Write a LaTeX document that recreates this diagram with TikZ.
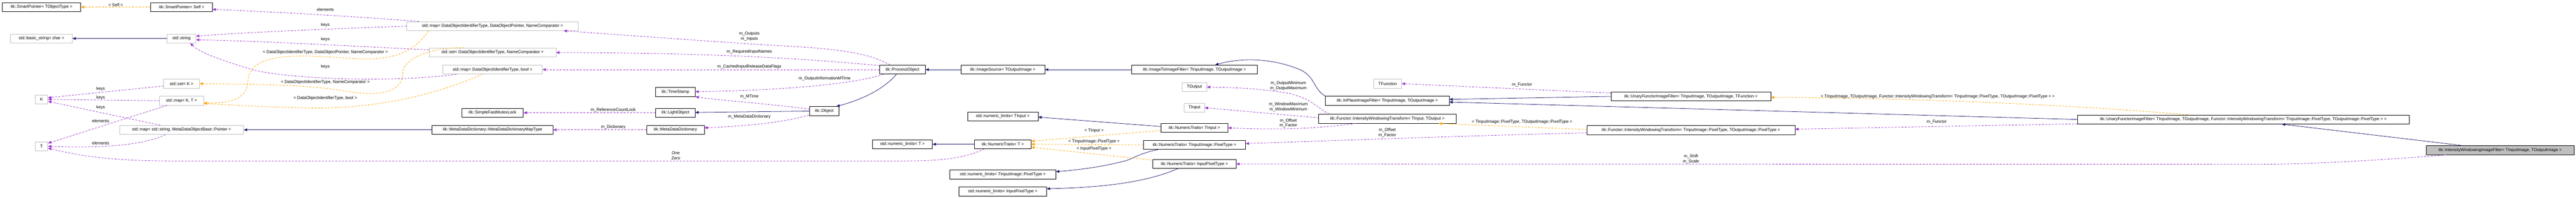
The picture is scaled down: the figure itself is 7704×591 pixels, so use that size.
\documentclass[tikz,border=0pt]{standalone}
\usepackage{fontspec}
\setmainfont{Liberation Sans}
\usetikzlibrary{arrows.meta,calc}
\definecolor{navy}{RGB}{25,25,112}
\definecolor{orch}{RGB}{154,50,205}
\definecolor{org}{RGB}{255,165,0}
\definecolor{ugray}{RGB}{191,191,191}
\begin{document}
\begin{tikzpicture}[x=1pt,y=-1pt,
  every node/.style={font=\fontsize{12.5}{15}\selectfont},
  box/.style={draw, line width=1pt, minimum height=27pt, inner sep=0pt, fill=white},
  doc/.style={box, draw=black},
  und/.style={box, draw=ugray},
  lbl/.style={inner sep=1pt, align=center, font=\fontsize{12.5}{15}\selectfont},
  inh/.style={draw=navy, line width=1.2pt, -{Triangle[length=10pt,width=8pt]}, fill=none},
  tpl/.style={draw=org, line width=1.2pt, dash pattern=on 6pt off 4pt, -{Triangle[length=10pt,width=8pt,fill=org]}},
  use/.style={draw=orch, line width=1.2pt, dash pattern=on 6pt off 4pt, -{Triangle[length=10pt,width=8pt,fill=orch]}}]
\useasboundingbox (0,0) rectangle (7704,591);
% nodes
\node[doc,minimum width=235] (spTO) at (124,21) {itk::SmartPointer< TObjectType >};
\node[doc,minimum width=184] (spSelf) at (543,21) {itk::SmartPointer< Self >};
\node[und,minimum width=184] (bstr) at (124,115) {std::basic\_string< char >};
\node[und,minimum width=86] (str) at (543,115) {std::string};
\node[und,minimum width=107] (setK) at (543,250) {std::set< K >};
\node[und,minimum width=38] (K) at (124,297) {K};
\node[und,minimum width=132] (mapKT) at (543,301) {std::map< K, T >};
\node[und,minimum width=371] (mapSM) at (543,388) {std::map< std::string, MetaDataObjectBase::Pointer >};
\node[und,minimum width=38] (T) at (124,437) {T};
\node[und,minimum width=514] (mapDOP) at (1473,78) {std::map< DataObjectIdentifierType, DataObjectPointer, NameComparator >};
\node[und,minimum width=379] (setDO) at (1473,157) {std::set< DataObjectIdentifierType, NameComparator >};
\node[und,minimum width=298] (mapBool) at (1473,208) {std::map< DataObjectIdentifierType, bool >};
\node[doc,minimum width=184] (mutex) at (1473,337) {itk::SimpleFastMutexLock};
\node[doc,minimum width=362] (mddMap) at (1473,388) {itk::MetaDataDictionary::MetaDataDictionaryMapType};
\node[doc,minimum width=118] (ts) at (2020,275) {itk::TimeStamp};
\node[doc,minimum width=118] (lo) at (2020,337) {itk::LightObject};
\node[doc,minimum width=172] (mdd) at (2020,388) {itk::MetaDataDictionary};
\node[doc,minimum width=87] (obj) at (2465,332) {itk::Object};
\node[doc,minimum width=137] (po) at (2699,208) {itk::ProcessObject};
\node[doc,minimum width=251] (isrc) at (2999,208) {itk::ImageSource< TOutputImage >};
\node[doc,minimum width=376] (i2i) at (3572,208) {itk::ImageToImageFilter< TInputImage, TOutputImage >};
\node[und,minimum width=73] (TOut) at (3572,260) {TOutput};
\node[und,minimum width=61] (TIn) at (3572,322) {TInput};
\node[doc,minimum width=211] (nlTIn) at (2999,348) {std::numeric\_limits< TInput >};
\node[doc,minimum width=201] (ntTIn) at (3572,382) {itk::NumericTraits< TInput >};
\node[doc,minimum width=179] (nlT) at (2699,431) {std::numeric\_limits< T >};
\node[doc,minimum width=169] (ntT) at (2999,431) {itk::NumericTraits< T >};
\node[doc,minimum width=306] (ntTIPT) at (3572,433) {itk::NumericTraits< TInputImage::PixelType >};
\node[doc,minimum width=250] (ntIPT) at (3572,490) {itk::NumericTraits< InputPixelType >};
\node[doc,minimum width=317] (nlTIPT) at (2999,521) {std::numeric\_limits< TInputImage::PixelType >};
\node[doc,minimum width=262] (nlIPT) at (2999,572) {std::numeric\_limits< InputPixelType >};
\node[und,minimum width=83] (TFun) at (4150,250) {TFunction};
\node[doc,minimum width=370] (ipf) at (4149,301) {itk::InPlaceImageFilter< TInputImage, TOutputImage >};
\node[doc,minimum width=410] (iwtIO) at (4149,355) {itk::Functor::IntensityWindowingTransform< TInput, TOutput >};
\node[doc,minimum width=477] (uf) at (5057,288) {itk::UnaryFunctorImageFilter< TInputImage, TOutputImage, TFunction >};
\node[doc,minimum width=622] (iwtPix) at (5057,389) {itk::Functor::IntensityWindowingTransform< TInputImage::PixelType, TOutputImage::PixelType >};
\node[doc,minimum width=992] (uf2) at (6709,357) {itk::UnaryFunctorImageFilter< TInputImage, TOutputImage, Functor::IntensityWindowingTransform< TInputImage::PixelType, TOutputImage::PixelType > >};
\node[doc,minimum width=442,fill=ugray] (iwif) at (7477,449) {itk::IntensityWindowingImageFilter< TInputImage, TOutputImage >};
% inheritance
\draw[inh] (str.west) -- (bstr.east);
\draw[inh] (mddMap.west) -- (mapSM.east);
\draw[inh] (obj.west) -- ($(lo.east)+(0,-1)$);
\draw[inh] ($(po.south)+(-18,0)$) .. controls (2640,270) and (2570,300) .. ($(obj.north east)+(-8,0)$);
\draw[inh] (isrc.west) -- (po.east);
\draw[inh] (i2i.west) -- (isrc.east);
\draw[inh] (ipf.north west) .. controls (3925,265) and (3935,225) .. (3880,205) .. controls (3790,170) and (3700,175) .. ($(i2i.north)+(62,0)$);
\draw[inh] (uf.west) -- ($(ipf.east)+(0,-4)$);
\draw[inh] (uf2.west) -- ($(ipf.east)+(0,4)$);
\draw[inh] ($(iwif.north)+(-112,0)$) -- ($(uf2.south)+(115,0)$);
\draw[inh] ($(ntTIn.north west)+(0,10)$) -- ($(nlTIn.east)+(0,2)$);
\draw[inh] (ntT.west) -- (nlT.east);
\draw[inh] ($(ntTIPT.south west)+(45,0)$) .. controls (3400,460) and (3390,475) .. (3360,482) .. controls (3290,500) and (3220,508) .. ($(nlTIPT.east)+(0,-8)$);
\draw[inh] ($(ntIPT.south)+(-50,0)$) .. controls (3440,540) and (3320,560) .. ($(nlIPT.east)+(0,-8)$);
% template
\draw[tpl] (spSelf.west) -- node[lbl,above] (l1) {< Self >} (spTO.east);
\draw[tpl] ($(mapDOP.south west)+(66,0)$) .. controls (1230,170) and (1150,180) .. (1060,175) .. controls (900,165) and (745,150) .. (741,245) .. controls (738,300) and (680,308) .. ($(mapKT.east)+(0,7)$);
\node[lbl] (l2) at (973,156) {< DataObjectIdentifierType, DataObjectPointer, NameComparator >};
\draw[tpl] ($(setDO.north west)+(105,0)$) .. controls (1300,140) and (1205,170) .. (1204,220) .. controls (1203,290) and (1100,285) .. (1020,270) .. controls (900,252) and (760,252) .. (setK.east);
\node[lbl] (l3) at (973,245) {< DataObjectIdentifierType, NameComparator >};
\draw[tpl] ($(mapBool.south)+(-30,0)$) .. controls (1330,270) and (1150,330) .. (900,322) .. controls (750,318) and (660,312) .. ($(mapKT.east)+(0,8)$);
\node[lbl] (l4) at (973,293) {< DataObjectIdentifierType, bool >};
\draw[tpl] ($(ntTIn.south west)+(0,-6)$) -- ($(ntT.east)+(0,-9)$);
\node[lbl] (l5) at (3272,391) {< TInput >};
\draw[tpl] (ntTIPT.west) -- (ntT.east);
\node[lbl] (l6) at (3272,423) {< TInputImage::PixelType >};
\draw[tpl] ($(ntIPT.north west)+(-3,2)$) -- ($(ntT.east)+(0,9)$);
\node[lbl] (l7) at (3272,445) {< InputPixelType >};
\draw[tpl] ($(iwtPix.west)+(0,-2)$) -- ($(iwtIO.south east)+(-52,0)$);
\node[lbl] (l8) at (4552,365) {< TInputImage::PixelType, TOutputImage::PixelType >};
\draw[tpl] ($(uf2.north west)+(330,0)$) .. controls (6100,305) and (5600,292) .. ($(uf.east)+(0,3)$);
\node[lbl] (l9) at (5795,288) {< TInputImage, TOutputImage, Functor::IntensityWindowingTransform< TInputImage::PixelType, TOutputImage::PixelType > >};
% usage
\draw[use] ($(mapDOP.north west)+(37,0)$) .. controls (1000,45) and (800,35) .. ($(spSelf.east)+(0,7)$);
\node[lbl] (m1) at (973,28) {elements};
\draw[use] (mapDOP.west) .. controls (1000,86) and (760,95) .. ($(str.east)+(0,-7)$);
\node[lbl] (m2) at (973,75) {keys};
\draw[use] ($(setDO.west)+(0,-8)$) .. controls (1000,135) and (760,122) .. ($(str.east)+(0,4)$);
\node[lbl] (m3) at (973,117) {keys};
\draw[use] ($(mapBool.south west)+(42,0)$) .. controls (1200,245) and (900,240) .. (760,210) .. controls (680,185) and (600,160) .. ($(str.south)+(26,0)$);
\node[lbl] (m4) at (973,199) {keys};
\draw[use] ($(setK.west)+(0,7)$) -- ($(K.east)+(0,-5)$);
\node[lbl] (m5) at (301,265) {keys};
\draw[use] (mapKT.west) -- (K.east);
\node[lbl] (m6) at (301,292) {keys};
\draw[use] ($(mapSM.north west)+(122,0)$) -- ($(K.east)+(0,6)$);
\node[lbl] (m7) at (301,321) {keys};
\draw[use] ($(mapKT.south west)+(23,0)$) -- ($(T.east)+(0,-9)$);
\node[lbl] (m8) at (301,361) {elements};
\draw[use] ($(mapSM.south west)+(138,0)$) .. controls (420,440) and (260,442) .. (T.east);
\node[lbl] (m9) at (301,428) {elements};
\draw[use] ($(ntT.south west)+(30,0)$) .. controls (2880,476) and (2800,481) .. (2700,481) -- (520,481) .. controls (300,481) and (220,460) .. ($(T.east)+(0,6)$);
\node[lbl] (m10) at (2021,465) {One\\Zero};
\draw[use] ($(po.north west)+(32,0)$) .. controls (2600,160) and (2520,145) .. (2300,135) .. controls (2000,115) and (1800,100) .. ($(mapDOP.south east)+(-45,0)$);
\node[lbl] (m11) at (2241,109) {m\_Outputs\\m\_Inputs};
\draw[use] ($(po.north west)+(0,2)$) .. controls (2300,165) and (2000,158) .. (setDO.east);
\node[lbl] (m12) at (2241,155) {m\_RequiredInputNames};
\draw[use] (po.west) -- (mapBool.east);
\node[lbl] (m13) at (2241,200) {m\_CachedInputReleaseDataFlags};
\draw[use] ($(po.south west)+(12,0)$) .. controls (2560,250) and (2350,270) .. ($(ts.east)+(0,-1)$);
\node[lbl] (m14) at (2466,235) {m\_OutputInformationMTime};
\draw[use] ($(obj.west)+(0,-6)$) .. controls (2300,310) and (2150,300) .. ($(ts.south east)+(0,0)$);
\node[lbl] (m15) at (2241,288) {m\_MTime};
\draw[use] (lo.west) -- (mutex.east);
\node[lbl] (m16) at (1834,329) {m\_ReferenceCountLock};
\draw[use] ($(obj.south west)+(-2,-2)$) .. controls (2330,370) and (2200,378) .. ($(mdd.east)+(0,-6)$);
\node[lbl] (m17) at (2241,349) {m\_MetaDataDictionary};
\draw[use] (mdd.west) -- (mddMap.east);
\node[lbl] (m18) at (1834,380) {m\_Dictionary};
\draw[use] ($(iwtIO.north west)+(32,0)$) .. controls (3935,320) and (3925,295) .. (3850,278) .. controls (3750,262) and (3680,262) .. (TOut.east);
\node[lbl] (m19) at (3853,256) {m\_OutputMinimum\\m\_OutputMaximum};
\draw[use] ($(iwtIO.west)+(0,-3)$) -- (TIn.east);
\node[lbl] (m20) at (3853,319) {m\_WindowMaximum\\m\_WindowMinimum};
\draw[use] ($(iwtIO.south west)+(110,0)$) .. controls (3950,382) and (3850,390) .. (ntTIn.east);
\node[lbl] (m21) at (3853,368) {m\_Offset\\m\_Factor};
\draw[use] ($(iwtPix.west)+(0,8)$) .. controls (4400,405) and (4000,420) .. ($(ntTIPT.east)+(0,-4)$);
\node[lbl] (m22) at (4149,396) {m\_Offset\\m\_Factor};
\draw[use] ($(uf.west)+(0,-10)$) -- (TFun.east);
\node[lbl] (m23) at (4552,253) {m\_Functor};
\draw[use] ($(uf2.west)+(0,13)$) -- ($(iwtPix.east)+(0,-3)$);
\node[lbl] (m24) at (5792,365) {m\_Functor};
\draw[use] ($(iwif.south west)+(60,0)$) .. controls (7100,480) and (6900,491) .. (6750,491) -- (ntIPT.east);
\node[lbl] (m25) at (5057,475) {m\_Shift\\m\_Scale};
\end{tikzpicture}
\end{document}
